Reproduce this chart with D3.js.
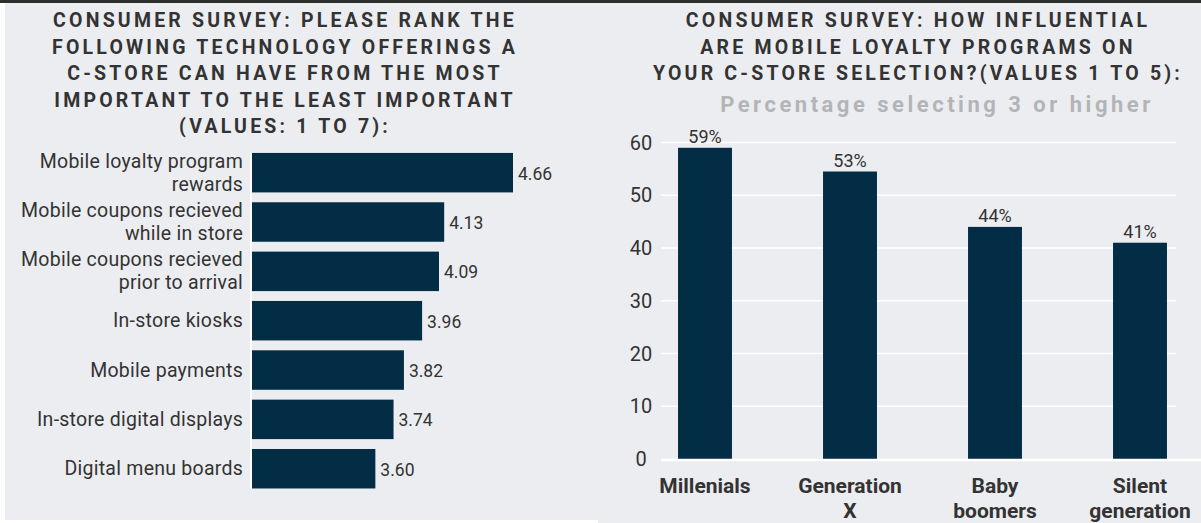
<!DOCTYPE html>
<html>
<head>
<meta charset="utf-8">
<script src="https://cdn.jsdelivr.net/npm/d3@7"></script>
<style>
  html, body { margin: 0; padding: 0; background: #ECEDF1; }
  svg { display: block; }
  text { font-family: Roboto, "Noto Sans", sans-serif; }
</style>
</head>
<body>
<svg id="chart" width="1201" height="523"></svg>
<script>
// ---------- DATA ----------
const leftTitle = [
  "CONSUMER SURVEY: PLEASE RANK THE",
  "FOLLOWING TECHNOLOGY OFFERINGS A",
  "C-STORE CAN HAVE FROM THE MOST",
  "IMPORTANT TO THE LEAST IMPORTANT",
  "(VALUES: 1 TO 7):"
];
const techCategories = [
  "Mobile loyalty program\nrewards",
  "Mobile coupons recieved\nwhile in store",
  "Mobile coupons recieved\nprior to arrival",
  "In-store kiosks",
  "Mobile payments",
  "In-store digital displays",
  "Digital menu boards"
];
const techValues = [4.66, 4.13, 4.09, 3.96, 3.82, 3.74, 3.60];

const rightTitle = [
  "CONSUMER SURVEY: HOW INFLUENTIAL",
  "ARE MOBILE LOYALTY PROGRAMS ON",
  "YOUR C-STORE SELECTION?(VALUES 1 TO 5):"
];
const rightSubtitle = "Percentage selecting 3 or higher";
const generations = ["Millenials", "Generation\nX", "Baby\nboomers", "Silent\ngeneration"];
const generationValues = [59, 54.5, 44, 41];
const generationLabels = ["59%", "53%", "44%", "41%"];
const yTicks = [0, 10, 20, 30, 40, 50, 60];

// ---------- STYLE ----------
const BAR = "#022D45";
const TXT = "#333333";

const svg = d3.select("#chart");

// frame
svg.append("rect").attr("x", 0).attr("y", 0).attr("width", 1201).attr("height", 523).attr("fill", "#ECEDF1");
svg.append("rect").attr("x", 0).attr("y", 0).attr("width", 5).attr("height", 523).attr("fill", "#ffffff");
svg.append("rect").attr("x", 0).attr("y", 520).attr("width", 598).attr("height", 3).attr("fill", "#ffffff");
svg.append("rect").attr("x", 0).attr("y", 0).attr("width", 1201).attr("height", 3).attr("fill", "#2e2e2e");

// ---------- LEFT CHART ----------
const lt = svg.append("g");
lt.selectAll("text.title").data(leftTitle).join("text")
  .attr("x", 285).attr("y", (d, i) => 27 + i * 26.5)
  .attr("text-anchor", "middle")
  .attr("font-size", 19.5).attr("font-weight", 700)
  .attr("letter-spacing", 3.2)
  .attr("fill", TXT)
  .text(d => d);

const xL = d3.scaleLinear().domain([2.65, 4.66]).range([252, 513]);
const yL = d3.scaleBand().domain(techCategories).range([148, 493.4]).paddingInner(0.2).paddingOuter(0.1);

lt.selectAll("rect.bar").data(techValues).join("rect")
  .attr("x", xL.range()[0])
  .attr("y", (d, i) => yL(techCategories[i]))
  .attr("width", d => xL(d) - xL.range()[0])
  .attr("height", yL.bandwidth())
  .attr("fill", BAR);

// axis line
lt.append("line")
  .attr("x1", 251).attr("x2", 251)
  .attr("y1", yL.range()[0] + 5).attr("y2", yL.range()[1] - 5)
  .attr("stroke", "#ffffff").attr("stroke-width", 2);

// category labels
techCategories.forEach((c, i) => {
  const lines = c.split("\n");
  const cy = yL(c) + yL.bandwidth() / 2;
  lines.forEach((ln, j) => {
    lt.append("text")
      .attr("x", 243)
      .attr("y", cy + (j - (lines.length - 1) / 2) * 23)
      .attr("dominant-baseline", "central")
      .attr("text-anchor", "end")
      .attr("font-size", 19.5)
      .attr("letter-spacing", 0.25)
      .attr("fill", TXT)
      .text(ln);
  });
});

// value labels
lt.selectAll("text.val").data(techValues).join("text")
  .attr("x", d => xL(d) + 5)
  .attr("y", (d, i) => yL(techCategories[i]) + yL.bandwidth() / 2 + 1)
  .attr("dominant-baseline", "central")
  .attr("font-size", 17.5)
  .attr("fill", TXT)
  .text(d => d.toFixed(2));

// ---------- RIGHT CHART ----------
const rt = svg.append("g");
rt.selectAll("text.title").data(rightTitle).join("text")
  .attr("x", 918).attr("y", (d, i) => 27 + i * 26.5)
  .attr("text-anchor", "middle")
  .attr("font-size", 19.5).attr("font-weight", 700)
  .attr("letter-spacing", 3.2)
  .attr("fill", TXT)
  .text(d => d);

rt.append("text")
  .attr("x", 937).attr("y", 112)
  .attr("text-anchor", "middle")
  .attr("font-size", 22).attr("font-weight", 700)
  .attr("letter-spacing", 3.5)
  .attr("fill", "#B3B4B7")
  .text(rightSubtitle);

const yR = d3.scaleLinear().domain([0, 60]).range([459, 142.5]);
const xR = d3.scaleBand().domain(generations).range([632.5, 1212.5]).paddingInner(0.628).paddingOuter(0.314);

// gridlines
rt.selectAll("line.grid").data(yTicks.filter(t => t > 0)).join("line")
  .attr("x1", 661).attr("x2", 1176)
  .attr("y1", d => yR(d)).attr("y2", d => yR(d))
  .attr("stroke", "#ffffff").attr("stroke-width", 1.5);

// tick labels
rt.selectAll("text.tick").data(yTicks).join("text")
  .attr("x", 641).attr("y", d => yR(d))
  .attr("dominant-baseline", "central")
  .attr("text-anchor", "middle")
  .attr("font-size", 20)
  .attr("fill", TXT)
  .text(d => d);

// bars
rt.selectAll("rect.bar").data(generationValues).join("rect")
  .attr("x", (d, i) => xR(generations[i]))
  .attr("y", d => yR(d))
  .attr("width", xR.bandwidth())
  .attr("height", d => yR(0) - yR(d))
  .attr("fill", BAR);

// baseline
rt.append("line")
  .attr("x1", 661).attr("x2", 1201)
  .attr("y1", yR(0) + 1).attr("y2", yR(0) + 1)
  .attr("stroke", "#ffffff").attr("stroke-width", 2.5);

// value labels
rt.selectAll("text.val").data(generationValues).join("text")
  .attr("x", (d, i) => xR(generations[i]) + xR.bandwidth() / 2)
  .attr("y", d => yR(d) - 5)
  .attr("text-anchor", "middle")
  .attr("font-size", 18)
  .attr("fill", TXT)
  .text((d, i) => generationLabels[i]);

// category labels
generations.forEach(g => {
  const lines = g.split("\n");
  lines.forEach((ln, j) => {
    rt.append("text")
      .attr("x", xR(g) + xR.bandwidth() / 2)
      .attr("y", 486 + j * 25)
      .attr("dominant-baseline", "central")
      .attr("text-anchor", "middle")
      .attr("font-size", 21).attr("font-weight", 700)
      .attr("fill", TXT)
      .text(ln);
  });
});
</script>
</body>
</html>
